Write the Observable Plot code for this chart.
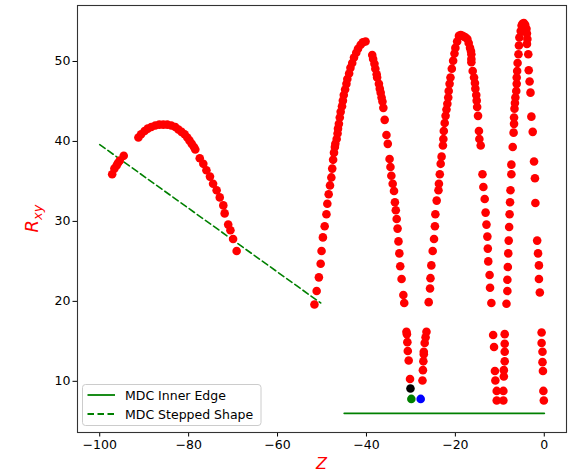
<!DOCTYPE html>
<html>
<head>
<meta charset="utf-8">
<script src="https://cdn.jsdelivr.net/npm/d3@7"></script>
<script src="https://cdn.jsdelivr.net/npm/@observablehq/plot@0.6"></script>
<style>
  body { margin: 0; background: #fff; }
  #chart { position: relative; width: 580px; height: 473px; overflow: hidden; }
</style>
</head>
<body>
<div id="chart"></div>
<script>
// Axis ticks
const zTicks = [-100, -80, -60, -40, -20, 0];
const rTicks = [10, 20, 30, 40, 50];

// Short tail at the far left
const tailZ = [-97.2, -96.7, -96.2, -95.9, -95.5, -94.6];
const tailR = [35.9, 36.6, 37.0, 37.3, 37.6, 38.2];

// First hump and its falling side
const humpZ = [-91.3, -90.7, -89.9, -89.2, -88.4, -87.5, -86.6, -85.7, -84.8, -83.9, -83.0, -82.3, -81.6, -80.9, -80.3, -79.8, -79.3, -78.8, -78.5,
               -77.5, -76.7, -76.0, -75.2, -74.5, -73.7, -73.0, -72.2, -71.9, -71.1, -70.6, -70.0, -69.2];
const humpR = [40.5, 40.9, 41.3, 41.6, 41.8, 42.0, 42.1, 42.1, 42.1, 42.0, 41.8, 41.5, 41.2, 40.9, 40.5, 40.1, 39.7, 39.3, 39.0,
               37.9, 37.2, 36.4, 35.6, 34.7, 33.9, 33.0, 32.0, 31.0, 29.6, 28.9, 27.8, 26.3];

// Peak near Z = -40: rising side
const peak1UpZ = [-51.7, -51.2, -50.7, -50.3, -50.1, -49.8, -49.4, -49.0, -48.8, -48.5, -48.2, -47.9, -47.7, -47.5, -47.3, -47.1, -47.0, -46.7, -46.5,
                  -46.4, -46.2, -46.0, -45.8, -45.5, -45.3, -45.1, -44.8, -44.5, -44.3, -43.9, -43.6, -43.2, -42.8, -42.3, -41.9, -41.3, -40.8, -40.2];
const peak1UpR = [19.6, 21.3, 23.0, 24.7, 26.3, 28.0, 29.4, 30.9, 32.2, 33.4, 34.5, 35.5, 36.6, 37.7, 38.6, 39.3, 39.7, 40.3, 41.0,
                  41.6, 42.2, 43.0, 43.7, 44.4, 45.1, 45.8, 46.5, 47.2, 47.8, 48.5, 49.2, 49.8, 50.5, 51.1, 51.6, 52.1, 52.4, 52.5];
// Peak near Z = -40: falling side and its lower column
const peak1DownZ = [-38.7, -38.5, -38.2, -38.0, -37.7, -37.6, -37.2, -37.0, -36.8, -36.6, -36.4, -36.2, -35.9, -35.5, -35.2, -34.8, -34.6, -34.4, -34.1, -33.8,
                    -33.6, -33.4, -33.2, -33.0, -32.8, -32.6, -32.4, -32.1, -31.7, -31.5,
                    -31.0, -30.9, -30.8, -30.7, -30.5, -30.2];
const peak1DownR = [50.8, 50.3, 49.7, 49.1, 48.4, 48.0, 47.2, 46.6, 46.1, 45.5, 45.0, 44.2, 42.7, 40.8, 39.7, 37.8, 36.8, 35.7, 34.7, 33.8,
                    32.4, 31.4, 30.3, 29.1, 27.5, 26.0, 24.4, 22.8, 20.8, 19.8,
                    16.2, 15.9, 14.9, 13.8, 12.6, 10.3];

// Peak near Z = -19: lower column and rising side
const peak2UpZ = [-27.4, -27.3, -27.2, -27.1, -27.1, -26.9, -26.7, -26.5,
                  -26.0, -25.7, -25.6, -25.4, -25.1, -24.8, -24.6, -24.5, -24.2, -23.8, -23.7, -23.5, -23.3, -23.1, -22.8, -22.7, -22.6, -22.4,
                  -22.2, -22.0, -21.8, -21.6, -21.5, -21.3, -21.1, -20.8, -20.5, -20.2, -20.0, -19.6, -19.2, -18.8, -18.4, -18.0, -17.7, -17.3,
                  -17.0, -16.7, -16.5, -16.4];
const peak2UpR = [10.1, 11.4, 12.5, 13.4, 13.7, 14.8, 15.5, 16.2,
                  19.9, 21.6, 22.9, 24.5, 26.3, 27.8, 29.4, 30.9, 32.6, 33.9, 34.7, 35.9, 37.2, 38.1, 39.5, 40.3, 41.3, 42.3,
                  43.2, 44.0, 44.7, 45.5, 46.3, 47.2, 48.0, 49.1, 50.1, 51.0, 51.7, 52.5, 53.2, 53.3, 53.2, 53.1, 53.0, 52.8,
                  52.3, 51.7, 51.3, 50.9];
// Peak near Z = -19: falling side and its lower column
const peak2DownZ = [-16.4, -16.4, -16.1, -15.8, -15.6, -15.5, -15.3, -15.2, -15.1, -14.9, -14.7, -14.6, -14.3, -13.9, -13.7, -13.4, -13.2, -13.0,
                    -12.8, -12.7, -12.6, -12.3, -12.2, -11.9,
                    -11.5, -11.3, -11.1, -11.0, -10.7, -10.7];
const peak2DownR = [50.3, 49.9, 48.8, 48.0, 47.3, 46.6, 45.8, 45.1, 44.3, 43.2, 41.3, 40.3, 39.5, 35.9, 34.3, 32.8, 31.1, 29.6,
                    28.1, 26.6, 25.0, 23.3, 21.7, 19.8,
                    15.8, 14.3, 11.3, 10.1, 8.8, 7.6];

// Peak near Z = -5: lower column and rising side
const peak3UpZ = [-9.2, -9.2, -9.1, -9.1, -8.9, -8.9, -8.9, -8.9,
                  -8.5, -8.3, -8.3, -8.2, -8.1, -8.0, -7.9, -7.8, -7.7, -7.6, -7.4, -7.4, -7.1, -6.9, -6.8, -6.8, -6.7, -6.6,
                  -6.5, -6.3, -6.2, -6.2, -6.1, -6.0, -5.8, -5.7, -5.6, -5.3, -5.1, -4.9, -4.6, -4.3, -4.0, -3.9, -3.8, -3.9];
const peak3UpR = [7.6, 8.8, 10.6, 11.4, 12.5, 13.7, 14.7, 15.9,
                  19.7, 21.3, 22.7, 24.3, 26.0, 27.6, 29.3, 30.9, 32.4, 33.9, 35.9, 37.1, 39.3, 41.1, 42.2, 43.0, 44.1, 44.8,
                  45.5, 46.3, 47.2, 48.0, 48.8, 49.8, 50.9, 52.0, 53.0, 53.8, 54.5, 54.7, 54.8, 54.6, 54.1, 53.5, 52.8, 52.2];
// Peak near Z = -5: falling side and its lower column
const peak3DownZ = [-3.6, -3.5, -3.3, -3.1, -2.9, -2.6, -2.3, -2.1, -2.0, -1.6, -1.4, -1.2, -1.2, -1.0,
                    -0.6, -0.6, -0.4, -0.4, -0.3, -0.2, -0.1];
const peak3DownR = [50.9, 48.9, 47.5, 46.1, 43.1, 41.2, 37.5, 35.4, 32.3, 27.6, 26.0, 24.5, 22.8, 21.1,
                    16.1, 14.8, 13.7, 12.4, 11.3, 8.8, 7.6];

// Highlighted points
const markZ = [-30.1, -29.9, -27.8];
const markR = [9.1, 7.8, 7.8];
const markColor = ["black", "green", "blue"];

// Reference lines
const innerEdgeZ = [-45, 0];
const innerEdgeR = [6.0, 6.0];
const steppedZ = [-100, -50.3];
const steppedR = [39.6, 19.8];

const rows = (zs, rs) => zs.map((z, i) => ({z, r: rs[i]}));
const scatter = [
  ...rows(tailZ, tailR), ...rows(humpZ, humpR),
  ...rows(peak1UpZ, peak1UpR), ...rows(peak1DownZ, peak1DownR),
  ...rows(peak2UpZ, peak2UpR), ...rows(peak2DownZ, peak2DownR),
  ...rows(peak3UpZ, peak3UpR), ...rows(peak3DownZ, peak3DownR)
];
const marked = markZ.map((z, i) => ({z, r: markR[i], c: markColor[i]}));

const font = "'DejaVu Sans', sans-serif";
const chart = Plot.plot({
  width: 580,
  height: 473,
  marginLeft: 77,
  marginRight: 14,
  marginTop: 5,
  marginBottom: 41,
  style: {fontFamily: font, fontSize: "12.5px", color: "#000", background: "#fff", overflow: "visible"},
  x: {domain: [-105, 5]},
  y: {domain: [3.6, 57.0]},
  color: {type: "identity"},
  marks: [
    Plot.line(rows(innerEdgeZ, innerEdgeR), {x: "z", y: "r", stroke: "green", strokeWidth: 1.8}),
    Plot.line(rows(steppedZ, steppedR), {x: "z", y: "r", stroke: "green", strokeWidth: 1.6, strokeDasharray: "6.5,3.5"}),
    Plot.dot(scatter, {x: "z", y: "r", r: 4.3, fill: "red"}),
    Plot.dot(marked, {x: "z", y: "r", r: 4.3, fill: "c"}),
    Plot.axisX({ticks: zTicks, tickSize: 4.5, tickPadding: 3, label: null}),
    Plot.axisY({ticks: rTicks, tickSize: 4.5, tickPadding: 2.5, label: null}),
    Plot.frame({stroke: "#333", strokeWidth: 1.1})
  ]
});

const svg = d3.select(chart);
const [x0, x1] = chart.scale("x").range;
const [y0, y1] = chart.scale("y").range;

// Axis titles
svg.append("text")
  .attr("x", (x0 + x1) / 2).attr("y", 469)
  .attr("text-anchor", "middle")
  .attr("fill", "red").attr("font-size", 16).attr("font-style", "italic")
  .attr("font-family", font)
  .text("Z");

const yl = svg.append("text")
  .attr("transform", `translate(37.5,${(y0 + y1) / 2}) rotate(-90)`)
  .attr("text-anchor", "middle")
  .attr("fill", "red").attr("font-size", 18).attr("font-style", "italic")
  .attr("font-family", font);
yl.append("tspan").text("R");
yl.append("tspan").attr("font-size", 13).attr("dy", 4.5).text("xy");

// Legend
const lg = svg.append("g")
  .attr("font-family", font).attr("font-size", 12.5).attr("text-anchor", "start");
lg.append("rect")
  .attr("x", x0 + 5.5).attr("y", y0 - 47.5).attr("width", 178.5).attr("height", 41).attr("rx", 3)
  .attr("fill", "white").attr("fill-opacity", 0.8).attr("stroke", "#cccccc");
const entries = [
  {label: "MDC Inner Edge", dash: null},
  {label: "MDC Stepped Shape", dash: "6.5,3.5"}
];
entries.forEach((e, i) => {
  const yy = y0 - 37 + i * 19;
  lg.append("line")
    .attr("x1", x0 + 10.5).attr("x2", x0 + 38).attr("y1", yy).attr("y2", yy)
    .attr("stroke", "green").attr("stroke-width", 1.8)
    .attr("stroke-dasharray", e.dash);
  lg.append("text").attr("x", x0 + 48).attr("y", yy + 4.5).attr("fill", "#000").text(e.label);
});

document.getElementById("chart").appendChild(chart);
</script>
</body>
</html>
